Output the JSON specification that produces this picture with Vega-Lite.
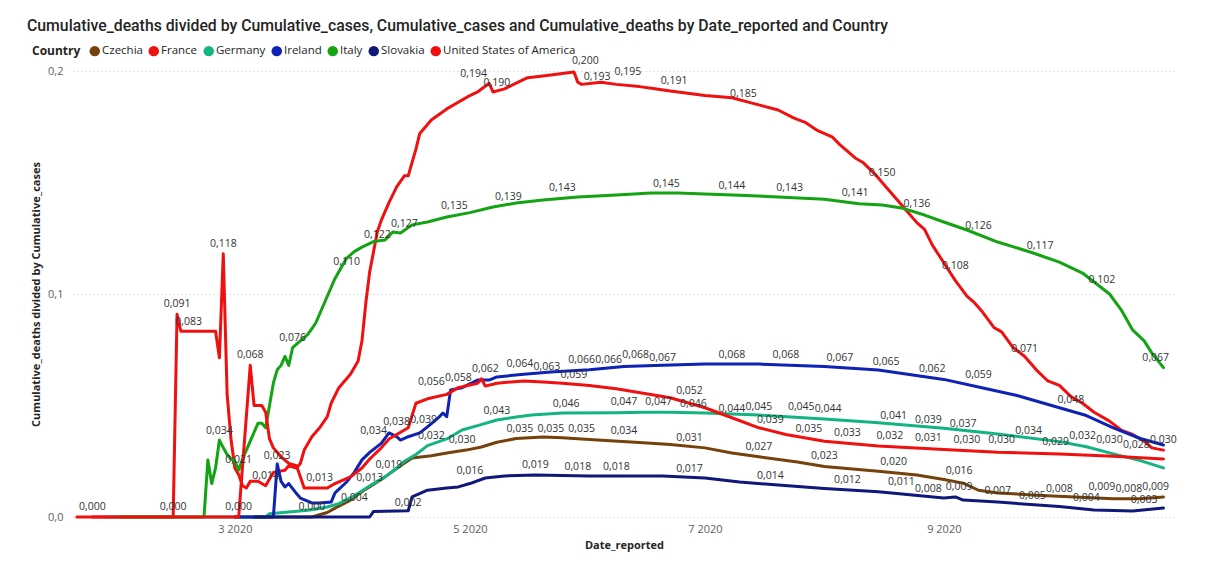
{
"$schema":"https://vega.github.io/schema/vega-lite/v6.json",
"width":1102,"height":446,
"autosize":"none",
"padding":{"left":73,"top":71,"right":31,"bottom":47},
"background":"white",
"config":{"locale":{"number":{"decimal":",","thousands":" ","grouping":[3],"currency":["","€"]}},"view":{"stroke":null},"font":"Open Sans"},
"title":{"text":"Cumulative_deaths divided by Cumulative_cases, Cumulative_cases and Cumulative_deaths by Date_reported and Country","anchor":"start","frame":"group","dx":-46,"fontSize":15.8,"font":"Roboto","fontWeight":500,"color":"#252423","offset":10},
"datasets":{
"series":[
{"date":"2020-03-01","country":"Czechia","value":0},{"date":"2020-03-21","country":"Czechia","value":0},{"date":"2020-03-25","country":"Czechia","value":0.002},{"date":"2020-03-27","country":"Czechia","value":0.004},{"date":"2020-03-31","country":"Czechia","value":0.0076},{"date":"2020-04-04","country":"Czechia","value":0.0125},{"date":"2020-04-09","country":"Czechia","value":0.018},{"date":"2020-04-13","country":"Czechia","value":0.023},{"date":"2020-04-16","country":"Czechia","value":0.0265},{"date":"2020-04-21","country":"Czechia","value":0.0275},{"date":"2020-04-25","country":"Czechia","value":0.0287},{"date":"2020-04-30","country":"Czechia","value":0.030},{"date":"2020-05-04","country":"Czechia","value":0.0314},{"date":"2020-05-08","country":"Czechia","value":0.0335},{"date":"2020-05-13","country":"Czechia","value":0.0352},{"date":"2020-05-20","country":"Czechia","value":0.0359},{"date":"2020-05-25","country":"Czechia","value":0.0355},{"date":"2020-06-01","country":"Czechia","value":0.0348},{"date":"2020-06-15","country":"Czechia","value":0.0333},{"date":"2020-06-22","country":"Czechia","value":0.0325},{"date":"2020-07-01","country":"Czechia","value":0.031},{"date":"2020-07-08","country":"Czechia","value":0.0287},{"date":"2020-07-15","country":"Czechia","value":0.027},{"date":"2020-07-25","country":"Czechia","value":0.0247},{"date":"2020-08-01","country":"Czechia","value":0.0226},{"date":"2020-08-15","country":"Czechia","value":0.0205},{"date":"2020-08-25","country":"Czechia","value":0.0188},{"date":"2020-09-01","country":"Czechia","value":0.0168},{"date":"2020-09-06","country":"Czechia","value":0.0152},{"date":"2020-09-10","country":"Czechia","value":0.012},{"date":"2020-09-15","country":"Czechia","value":0.0108},{"date":"2020-09-25","country":"Czechia","value":0.0098},{"date":"2020-10-05","country":"Czechia","value":0.009},{"date":"2020-10-15","country":"Czechia","value":0.0082},{"date":"2020-10-22","country":"Czechia","value":0.0082},{"date":"2020-10-28","country":"Czechia","value":0.009},
{"date":"2020-01-24","country":"France","value":0},{"date":"2020-02-14","country":"France","value":0},{"date":"2020-02-15","country":"France","value":0.0909},{"date":"2020-02-16","country":"France","value":0.0833},{"date":"2020-02-25","country":"France","value":0.0833},{"date":"2020-02-26","country":"France","value":0.0714},{"date":"2020-02-27","country":"France","value":0.118},{"date":"2020-02-28","country":"France","value":0.055},{"date":"2020-02-29","country":"France","value":0.035},{"date":"2020-03-01","country":"France","value":0.022},{"date":"2020-03-02","country":"France","value":0.019},{"date":"2020-03-03","country":"France","value":0.014},{"date":"2020-03-04","country":"France","value":0.013},{"date":"2020-03-05","country":"France","value":0.016},{"date":"2020-03-07","country":"France","value":0.016},{"date":"2020-03-09","country":"France","value":0.014},{"date":"2020-03-10","country":"France","value":0.017},{"date":"2020-03-11","country":"France","value":0.020},{"date":"2020-03-14","country":"France","value":0.021},{"date":"2020-03-15","country":"France","value":0.023},{"date":"2020-03-17","country":"France","value":0.022},{"date":"2020-03-18","country":"France","value":0.024},{"date":"2020-03-19","country":"France","value":0.030},{"date":"2020-03-21","country":"France","value":0.036},{"date":"2020-03-23","country":"France","value":0.040},{"date":"2020-03-25","country":"France","value":0.045},{"date":"2020-03-26","country":"France","value":0.051},{"date":"2020-03-28","country":"France","value":0.058},{"date":"2020-03-31","country":"France","value":0.064},{"date":"2020-04-02","country":"France","value":0.070},{"date":"2020-04-03","country":"France","value":0.079},{"date":"2020-04-04","country":"France","value":0.096},{"date":"2020-04-05","country":"France","value":0.110},{"date":"2020-04-06","country":"France","value":0.119},{"date":"2020-04-07","country":"France","value":0.128},{"date":"2020-04-08","country":"France","value":0.133},{"date":"2020-04-10","country":"France","value":0.141},{"date":"2020-04-12","country":"France","value":0.148},{"date":"2020-04-14","country":"France","value":0.153},{"date":"2020-04-15","country":"France","value":0.153},{"date":"2020-04-16","country":"France","value":0.159},{"date":"2020-04-17","country":"France","value":0.165},{"date":"2020-04-18","country":"France","value":0.172},{"date":"2020-04-21","country":"France","value":0.178},{"date":"2020-04-25","country":"France","value":0.183},{"date":"2020-05-01","country":"France","value":0.189},{"date":"2020-05-03","country":"France","value":0.1906},{"date":"2020-05-06","country":"France","value":0.1945},{"date":"2020-05-07","country":"France","value":0.1906},{"date":"2020-05-10","country":"France","value":0.192},{"date":"2020-05-13","country":"France","value":0.1946},{"date":"2020-05-16","country":"France","value":0.197},{"date":"2020-05-21","country":"France","value":0.198},{"date":"2020-05-28","country":"France","value":0.1996},{"date":"2020-05-29","country":"France","value":0.195},{"date":"2020-05-30","country":"France","value":0.194},{"date":"2020-06-04","country":"France","value":0.195},{"date":"2020-06-08","country":"France","value":0.194},{"date":"2020-06-14","country":"France","value":0.193},{"date":"2020-06-18","country":"France","value":0.192},{"date":"2020-06-22","country":"France","value":0.191},{"date":"2020-07-01","country":"France","value":0.189},{"date":"2020-07-08","country":"France","value":0.188},{"date":"2020-07-13","country":"France","value":0.1857},{"date":"2020-07-20","country":"France","value":0.1825},{"date":"2020-07-24","country":"France","value":0.179},{"date":"2020-07-27","country":"France","value":0.177},{"date":"2020-07-30","country":"France","value":0.1735},{"date":"2020-08-03","country":"France","value":0.1705},{"date":"2020-08-05","country":"France","value":0.167},{"date":"2020-08-09","country":"France","value":0.161},{"date":"2020-08-11","country":"France","value":0.159},{"date":"2020-08-14","country":"France","value":0.154},{"date":"2020-08-17","country":"France","value":0.148},{"date":"2020-08-20","country":"France","value":0.142},{"date":"2020-08-22","country":"France","value":0.138},{"date":"2020-08-25","country":"France","value":0.132},{"date":"2020-08-27","country":"France","value":0.129},{"date":"2020-08-29","country":"France","value":0.122},{"date":"2020-09-01","country":"France","value":0.114},{"date":"2020-09-04","country":"France","value":0.106},{"date":"2020-09-07","country":"France","value":0.099},{"date":"2020-09-09","country":"France","value":0.096},{"date":"2020-09-11","country":"France","value":0.092},{"date":"2020-09-14","country":"France","value":0.085},{"date":"2020-09-16","country":"France","value":0.083},{"date":"2020-09-19","country":"France","value":0.076},{"date":"2020-09-22","country":"France","value":0.072},{"date":"2020-09-25","country":"France","value":0.066},{"date":"2020-09-28","country":"France","value":0.061},{"date":"2020-10-01","country":"France","value":0.059},{"date":"2020-10-04","country":"France","value":0.054},{"date":"2020-10-07","country":"France","value":0.051},{"date":"2020-10-10","country":"France","value":0.047},{"date":"2020-10-14","country":"France","value":0.043},{"date":"2020-10-17","country":"France","value":0.039},{"date":"2020-10-20","country":"France","value":0.037},{"date":"2020-10-23","country":"France","value":0.034},{"date":"2020-10-25","country":"France","value":0.031},{"date":"2020-10-28","country":"France","value":0.030},
{"date":"2020-01-28","country":"Germany","value":0},{"date":"2020-03-09","country":"Germany","value":0},{"date":"2020-03-10","country":"Germany","value":0.0015},{"date":"2020-03-20","country":"Germany","value":0.003},{"date":"2020-03-25","country":"Germany","value":0.0045},{"date":"2020-03-28","country":"Germany","value":0.006},{"date":"2020-04-01","country":"Germany","value":0.0095},{"date":"2020-04-06","country":"Germany","value":0.015},{"date":"2020-04-09","country":"Germany","value":0.018},{"date":"2020-04-12","country":"Germany","value":0.022},{"date":"2020-04-14","country":"Germany","value":0.025},{"date":"2020-04-17","country":"Germany","value":0.028},{"date":"2020-04-20","country":"Germany","value":0.032},{"date":"2020-04-25","country":"Germany","value":0.035},{"date":"2020-04-29","country":"Germany","value":0.039},{"date":"2020-05-03","country":"Germany","value":0.041},{"date":"2020-05-08","country":"Germany","value":0.0435},{"date":"2020-05-13","country":"Germany","value":0.0448},{"date":"2020-05-17","country":"Germany","value":0.0457},{"date":"2020-05-25","country":"Germany","value":0.0466},{"date":"2020-06-08","country":"Germany","value":0.0468},{"date":"2020-06-15","country":"Germany","value":0.047},{"date":"2020-06-22","country":"Germany","value":0.047},{"date":"2020-07-01","country":"Germany","value":0.0466},{"date":"2020-07-15","country":"Germany","value":0.0457},{"date":"2020-08-01","country":"Germany","value":0.044},{"date":"2020-08-15","country":"Germany","value":0.0423},{"date":"2020-09-01","country":"Germany","value":0.0398},{"date":"2020-09-15","country":"Germany","value":0.0372},{"date":"2020-10-01","country":"Germany","value":0.0338},{"date":"2020-10-08","country":"Germany","value":0.0315},{"date":"2020-10-15","country":"Germany","value":0.0283},{"date":"2020-10-22","country":"Germany","value":0.0253},{"date":"2020-10-28","country":"Germany","value":0.022},
{"date":"2020-03-01","country":"Ireland","value":0},{"date":"2020-03-11","country":"Ireland","value":0},{"date":"2020-03-12","country":"Ireland","value":0.0238},{"date":"2020-03-13","country":"Ireland","value":0.016},{"date":"2020-03-14","country":"Ireland","value":0.0135},{"date":"2020-03-15","country":"Ireland","value":0.015},{"date":"2020-03-17","country":"Ireland","value":0.0105},{"date":"2020-03-18","country":"Ireland","value":0.0085},{"date":"2020-03-21","country":"Ireland","value":0.0063},{"date":"2020-03-23","country":"Ireland","value":0.0063},{"date":"2020-03-26","country":"Ireland","value":0.0067},{"date":"2020-03-27","country":"Ireland","value":0.0108},{"date":"2020-03-30","country":"Ireland","value":0.0157},{"date":"2020-04-01","country":"Ireland","value":0.020},{"date":"2020-04-03","country":"Ireland","value":0.0256},{"date":"2020-04-05","country":"Ireland","value":0.029},{"date":"2020-04-08","country":"Ireland","value":0.033},{"date":"2020-04-10","country":"Ireland","value":0.0377},{"date":"2020-04-12","country":"Ireland","value":0.036},{"date":"2020-04-13","country":"Ireland","value":0.0345},{"date":"2020-04-15","country":"Ireland","value":0.036},{"date":"2020-04-18","country":"Ireland","value":0.0377},{"date":"2020-04-20","country":"Ireland","value":0.0404},{"date":"2020-04-23","country":"Ireland","value":0.0448},{"date":"2020-04-24","country":"Ireland","value":0.0466},{"date":"2020-04-25","country":"Ireland","value":0.045},{"date":"2020-04-26","country":"Ireland","value":0.057},{"date":"2020-04-29","country":"Ireland","value":0.058},{"date":"2020-05-03","country":"Ireland","value":0.0614},{"date":"2020-05-06","country":"Ireland","value":0.0614},{"date":"2020-05-08","country":"Ireland","value":0.0628},{"date":"2020-05-15","country":"Ireland","value":0.064},{"date":"2020-05-22","country":"Ireland","value":0.065},{"date":"2020-06-01","country":"Ireland","value":0.066},{"date":"2020-06-10","country":"Ireland","value":0.0675},{"date":"2020-06-20","country":"Ireland","value":0.068},{"date":"2020-07-01","country":"Ireland","value":0.0686},{"date":"2020-07-15","country":"Ireland","value":0.0686},{"date":"2020-08-01","country":"Ireland","value":0.0675},{"date":"2020-08-15","country":"Ireland","value":0.0659},{"date":"2020-09-01","country":"Ireland","value":0.0617},{"date":"2020-09-10","country":"Ireland","value":0.0583},{"date":"2020-09-20","country":"Ireland","value":0.0545},{"date":"2020-10-01","country":"Ireland","value":0.049},{"date":"2020-10-08","country":"Ireland","value":0.0455},{"date":"2020-10-15","country":"Ireland","value":0.040},{"date":"2020-10-22","country":"Ireland","value":0.0352},{"date":"2020-10-28","country":"Ireland","value":0.0323},
{"date":"2020-01-31","country":"Italy","value":0},{"date":"2020-02-22","country":"Italy","value":0},{"date":"2020-02-23","country":"Italy","value":0.0256},{"date":"2020-02-24","country":"Italy","value":0.015},{"date":"2020-02-25","country":"Italy","value":0.022},{"date":"2020-02-26","country":"Italy","value":0.0345},{"date":"2020-02-27","country":"Italy","value":0.031},{"date":"2020-02-28","country":"Italy","value":0.028},{"date":"2020-02-29","country":"Italy","value":0.026},{"date":"2020-03-01","country":"Italy","value":0.025},{"date":"2020-03-02","country":"Italy","value":0.021},{"date":"2020-03-03","country":"Italy","value":0.026},{"date":"2020-03-04","country":"Italy","value":0.030},{"date":"2020-03-05","country":"Italy","value":0.034},{"date":"2020-03-06","country":"Italy","value":0.038},{"date":"2020-03-07","country":"Italy","value":0.042},{"date":"2020-03-08","country":"Italy","value":0.042},{"date":"2020-03-09","country":"Italy","value":0.040},{"date":"2020-03-10","country":"Italy","value":0.050},{"date":"2020-03-11","country":"Italy","value":0.060},{"date":"2020-03-12","country":"Italy","value":0.066},{"date":"2020-03-13","country":"Italy","value":0.068},{"date":"2020-03-14","country":"Italy","value":0.072},{"date":"2020-03-15","country":"Italy","value":0.068},{"date":"2020-03-16","country":"Italy","value":0.076},{"date":"2020-03-18","country":"Italy","value":0.079},{"date":"2020-03-20","country":"Italy","value":0.082},{"date":"2020-03-22","country":"Italy","value":0.087},{"date":"2020-03-25","country":"Italy","value":0.099},{"date":"2020-03-27","country":"Italy","value":0.107},{"date":"2020-03-30","country":"Italy","value":0.116},{"date":"2020-04-01","country":"Italy","value":0.119},{"date":"2020-04-03","country":"Italy","value":0.121},{"date":"2020-04-06","country":"Italy","value":0.1235},{"date":"2020-04-09","country":"Italy","value":0.1242},{"date":"2020-04-11","country":"Italy","value":0.1278},{"date":"2020-04-13","country":"Italy","value":0.1274},{"date":"2020-04-16","country":"Italy","value":0.131},{"date":"2020-04-20","country":"Italy","value":0.1323},{"date":"2020-04-25","country":"Italy","value":0.1345},{"date":"2020-05-01","country":"Italy","value":0.1365},{"date":"2020-05-07","country":"Italy","value":0.139},{"date":"2020-05-13","country":"Italy","value":0.1408},{"date":"2020-05-20","country":"Italy","value":0.1422},{"date":"2020-05-29","country":"Italy","value":0.1435},{"date":"2020-06-08","country":"Italy","value":0.1444},{"date":"2020-06-17","country":"Italy","value":0.1453},{"date":"2020-06-24","country":"Italy","value":0.1453},{"date":"2020-07-01","country":"Italy","value":0.1448},{"date":"2020-07-10","country":"Italy","value":0.1443},{"date":"2020-07-20","country":"Italy","value":0.1435},{"date":"2020-08-01","country":"Italy","value":0.1425},{"date":"2020-08-10","country":"Italy","value":0.1405},{"date":"2020-08-16","country":"Italy","value":0.1399},{"date":"2020-08-21","country":"Italy","value":0.1386},{"date":"2020-08-27","country":"Italy","value":0.1354},{"date":"2020-09-01","country":"Italy","value":0.1323},{"date":"2020-09-07","country":"Italy","value":0.1287},{"date":"2020-09-15","country":"Italy","value":0.1233},{"date":"2020-09-24","country":"Italy","value":0.1185},{"date":"2020-10-01","country":"Italy","value":0.1143},{"date":"2020-10-07","country":"Italy","value":0.1094},{"date":"2020-10-10","country":"Italy","value":0.1054},{"date":"2020-10-14","country":"Italy","value":0.100},{"date":"2020-10-17","country":"Italy","value":0.093},{"date":"2020-10-20","country":"Italy","value":0.0839},{"date":"2020-10-23","country":"Italy","value":0.079},{"date":"2020-10-25","country":"Italy","value":0.0735},{"date":"2020-10-28","country":"Italy","value":0.067},
{"date":"2020-03-06","country":"Slovakia","value":0},{"date":"2020-04-05","country":"Slovakia","value":0},{"date":"2020-04-06","country":"Slovakia","value":0.0025},{"date":"2020-04-15","country":"Slovakia","value":0.0028},{"date":"2020-04-16","country":"Slovakia","value":0.009},{"date":"2020-04-20","country":"Slovakia","value":0.012},{"date":"2020-04-25","country":"Slovakia","value":0.013},{"date":"2020-04-28","country":"Slovakia","value":0.0135},{"date":"2020-05-01","country":"Slovakia","value":0.015},{"date":"2020-05-05","country":"Slovakia","value":0.0175},{"date":"2020-05-10","country":"Slovakia","value":0.0184},{"date":"2020-05-18","country":"Slovakia","value":0.0188},{"date":"2020-06-01","country":"Slovakia","value":0.0184},{"date":"2020-06-20","country":"Slovakia","value":0.0184},{"date":"2020-07-01","country":"Slovakia","value":0.0175},{"date":"2020-07-10","country":"Slovakia","value":0.0157},{"date":"2020-07-20","country":"Slovakia","value":0.0143},{"date":"2020-08-01","country":"Slovakia","value":0.0128},{"date":"2020-08-15","country":"Slovakia","value":0.0113},{"date":"2020-09-01","country":"Slovakia","value":0.0085},{"date":"2020-09-04","country":"Slovakia","value":0.009},{"date":"2020-09-06","country":"Slovakia","value":0.0076},{"date":"2020-09-15","country":"Slovakia","value":0.0067},{"date":"2020-10-01","country":"Slovakia","value":0.0047},{"date":"2020-10-10","country":"Slovakia","value":0.0031},{"date":"2020-10-20","country":"Slovakia","value":0.0027},{"date":"2020-10-28","country":"Slovakia","value":0.004},
{"date":"2020-01-20","country":"United States of America","value":0},{"date":"2020-03-02","country":"United States of America","value":0},{"date":"2020-03-05","country":"United States of America","value":0.068},{"date":"2020-03-06","country":"United States of America","value":0.050},{"date":"2020-03-08","country":"United States of America","value":0.050},{"date":"2020-03-09","country":"United States of America","value":0.047},{"date":"2020-03-10","country":"United States of America","value":0.035},{"date":"2020-03-11","country":"United States of America","value":0.031},{"date":"2020-03-13","country":"United States of America","value":0.027},{"date":"2020-03-15","country":"United States of America","value":0.024},{"date":"2020-03-17","country":"United States of America","value":0.023},{"date":"2020-03-18","country":"United States of America","value":0.018},{"date":"2020-03-19","country":"United States of America","value":0.013},{"date":"2020-03-22","country":"United States of America","value":0.013},{"date":"2020-03-25","country":"United States of America","value":0.013},{"date":"2020-03-27","country":"United States of America","value":0.015},{"date":"2020-03-31","country":"United States of America","value":0.018},{"date":"2020-04-03","country":"United States of America","value":0.022},{"date":"2020-04-05","country":"United States of America","value":0.026},{"date":"2020-04-08","country":"United States of America","value":0.031},{"date":"2020-04-10","country":"United States of America","value":0.035},{"date":"2020-04-13","country":"United States of America","value":0.038},{"date":"2020-04-15","country":"United States of America","value":0.040},{"date":"2020-04-17","country":"United States of America","value":0.051},{"date":"2020-04-20","country":"United States of America","value":0.053},{"date":"2020-04-25","country":"United States of America","value":0.055},{"date":"2020-04-28","country":"United States of America","value":0.058},{"date":"2020-05-03","country":"United States of America","value":0.060},{"date":"2020-05-04","country":"United States of America","value":0.062},{"date":"2020-05-05","country":"United States of America","value":0.0587},{"date":"2020-05-08","country":"United States of America","value":0.060},{"date":"2020-05-15","country":"United States of America","value":0.061},{"date":"2020-05-20","country":"United States of America","value":0.0605},{"date":"2020-05-25","country":"United States of America","value":0.060},{"date":"2020-06-01","country":"United States of America","value":0.059},{"date":"2020-06-08","country":"United States of America","value":0.0575},{"date":"2020-06-15","country":"United States of America","value":0.0555},{"date":"2020-06-22","country":"United States of America","value":0.0535},{"date":"2020-07-01","country":"United States of America","value":0.049},{"date":"2020-07-08","country":"United States of America","value":0.0445},{"date":"2020-07-15","country":"United States of America","value":0.040},{"date":"2020-07-22","country":"United States of America","value":0.037},{"date":"2020-08-01","country":"United States of America","value":0.034},{"date":"2020-08-15","country":"United States of America","value":0.0318},{"date":"2020-09-01","country":"United States of America","value":0.0303},{"date":"2020-09-15","country":"United States of America","value":0.029},{"date":"2020-10-01","country":"United States of America","value":0.0283},{"date":"2020-10-15","country":"United States of America","value":0.0272},{"date":"2020-10-28","country":"United States of America","value":0.026}
],
"labels":[
{"date":"2020-01-24","country":"France","value":0},{"date":"2020-02-14","country":"France","value":0},{"date":"2020-02-15","country":"France","value":0.091},{"date":"2020-02-18","country":"France","value":0.083},{"date":"2020-02-27","country":"France","value":0.118},{"date":"2020-03-09","country":"France","value":0.014},{"date":"2020-05-08","country":"France","value":0.190},{"date":"2020-05-02","country":"France","value":0.194},{"date":"2020-05-31","country":"France","value":0.200},{"date":"2020-06-03","country":"France","value":0.193},{"date":"2020-06-11","country":"France","value":0.195},{"date":"2020-06-23","country":"France","value":0.191},{"date":"2020-07-11","country":"France","value":0.185},{"date":"2020-08-16","country":"France","value":0.150},{"date":"2020-09-04","country":"France","value":0.108},{"date":"2020-09-22","country":"France","value":0.071},{"date":"2020-10-28","country":"France","value":0.030},
{"date":"2020-03-02","country":"United States of America","value":0},{"date":"2020-03-05","country":"United States of America","value":0.068},{"date":"2020-03-23","country":"United States of America","value":0.013},{"date":"2020-04-06","country":"United States of America","value":0.034},{"date":"2020-04-21","country":"United States of America","value":0.056},{"date":"2020-05-05","country":"United States of America","value":0.062},{"date":"2020-05-21","country":"United States of America","value":0.063},{"date":"2020-05-28","country":"United States of America","value":0.059},{"date":"2020-06-27","country":"United States of America","value":0.052},{"date":"2020-07-08","country":"United States of America","value":0.044},{"date":"2020-07-18","country":"United States of America","value":0.039},{"date":"2020-07-28","country":"United States of America","value":0.035},{"date":"2020-08-07","country":"United States of America","value":0.033},{"date":"2020-08-18","country":"United States of America","value":0.032},{"date":"2020-08-28","country":"United States of America","value":0.031},{"date":"2020-09-07","country":"United States of America","value":0.030},{"date":"2020-09-16","country":"United States of America","value":0.030},{"date":"2020-09-30","country":"United States of America","value":0.029},{"date":"2020-10-21","country":"United States of America","value":0.028},
{"date":"2020-02-26","country":"Italy","value":0.034},{"date":"2020-03-02","country":"Italy","value":0.021},{"date":"2020-03-16","country":"Italy","value":0.076},{"date":"2020-03-30","country":"Italy","value":0.110},{"date":"2020-04-07","country":"Italy","value":0.122},{"date":"2020-04-14","country":"Italy","value":0.127},{"date":"2020-04-27","country":"Italy","value":0.135},{"date":"2020-05-11","country":"Italy","value":0.139},{"date":"2020-05-25","country":"Italy","value":0.143},{"date":"2020-06-21","country":"Italy","value":0.145},{"date":"2020-07-08","country":"Italy","value":0.144},{"date":"2020-07-23","country":"Italy","value":0.143},{"date":"2020-08-09","country":"Italy","value":0.141},{"date":"2020-08-25","country":"Italy","value":0.136},{"date":"2020-09-10","country":"Italy","value":0.126},{"date":"2020-09-26","country":"Italy","value":0.117},{"date":"2020-10-12","country":"Italy","value":0.102},{"date":"2020-10-26","country":"Italy","value":0.067},
{"date":"2020-03-12","country":"Ireland","value":0.023},{"date":"2020-04-12","country":"Ireland","value":0.038},{"date":"2020-04-19","country":"Ireland","value":0.039},{"date":"2020-04-28","country":"Ireland","value":0.058},{"date":"2020-05-14","country":"Ireland","value":0.064},{"date":"2020-05-30","country":"Ireland","value":0.066},{"date":"2020-06-06","country":"Ireland","value":0.066},{"date":"2020-06-13","country":"Ireland","value":0.068},{"date":"2020-06-20","country":"Ireland","value":0.067},{"date":"2020-07-08","country":"Ireland","value":0.068},{"date":"2020-07-22","country":"Ireland","value":0.068},{"date":"2020-08-05","country":"Ireland","value":0.067},{"date":"2020-08-17","country":"Ireland","value":0.065},{"date":"2020-08-29","country":"Ireland","value":0.062},{"date":"2020-09-10","country":"Ireland","value":0.059},{"date":"2020-10-04","country":"Ireland","value":0.048},
{"date":"2020-04-10","country":"Germany","value":0.019},{"date":"2020-04-21","country":"Germany","value":0.032},{"date":"2020-05-08","country":"Germany","value":0.043},{"date":"2020-05-26","country":"Germany","value":0.046},{"date":"2020-06-10","country":"Germany","value":0.047},{"date":"2020-06-19","country":"Germany","value":0.047},{"date":"2020-06-28","country":"Germany","value":0.046},{"date":"2020-07-15","country":"Germany","value":0.045},{"date":"2020-07-26","country":"Germany","value":0.045},{"date":"2020-08-02","country":"Germany","value":0.044},{"date":"2020-08-19","country":"Germany","value":0.041},{"date":"2020-08-28","country":"Germany","value":0.039},{"date":"2020-09-06","country":"Germany","value":0.037},{"date":"2020-09-23","country":"Germany","value":0.034},{"date":"2020-10-07","country":"Germany","value":0.032},{"date":"2020-10-14","country":"Germany","value":0.030},
{"date":"2020-03-21","country":"Czechia","value":0},{"date":"2020-04-01","country":"Czechia","value":0.004},{"date":"2020-04-05","country":"Czechia","value":0.013},{"date":"2020-04-29","country":"Czechia","value":0.030},{"date":"2020-05-14","country":"Czechia","value":0.035},{"date":"2020-05-22","country":"Czechia","value":0.035},{"date":"2020-05-30","country":"Czechia","value":0.035},{"date":"2020-06-10","country":"Czechia","value":0.034},{"date":"2020-06-27","country":"Czechia","value":0.031},{"date":"2020-07-15","country":"Czechia","value":0.027},{"date":"2020-08-01","country":"Czechia","value":0.023},{"date":"2020-08-19","country":"Czechia","value":0.020},{"date":"2020-09-05","country":"Czechia","value":0.016},{"date":"2020-10-01","country":"Czechia","value":0.008},{"date":"2020-10-12","country":"Czechia","value":0.009},{"date":"2020-10-19","country":"Czechia","value":0.008},{"date":"2020-10-26","country":"Czechia","value":0.009},
{"date":"2020-04-15","country":"Slovakia","value":0.002},{"date":"2020-05-01","country":"Slovakia","value":0.016},{"date":"2020-05-18","country":"Slovakia","value":0.019},{"date":"2020-05-29","country":"Slovakia","value":0.018},{"date":"2020-06-08","country":"Slovakia","value":0.018},{"date":"2020-06-27","country":"Slovakia","value":0.017},{"date":"2020-07-18","country":"Slovakia","value":0.014},{"date":"2020-08-07","country":"Slovakia","value":0.012},{"date":"2020-08-21","country":"Slovakia","value":0.011},{"date":"2020-08-28","country":"Slovakia","value":0.008},{"date":"2020-09-05","country":"Slovakia","value":0.009},{"date":"2020-09-15","country":"Slovakia","value":0.007},{"date":"2020-09-24","country":"Slovakia","value":0.005},{"date":"2020-10-08","country":"Slovakia","value":0.004},{"date":"2020-10-23","country":"Slovakia","value":0.003}
]
},
"layer":[
{"data":{"name":"series"},
 "mark":{"type":"line","strokeWidth":3,"strokeJoin":"round","strokeCap":"round"},
 "encoding":{
  "x":{"field":"date","type":"temporal","title":"Date_reported",
   "scale":{"type":"utc","domain":[{"year":2020,"month":1,"date":19,"utc":true},{"year":2020,"month":10,"date":31,"utc":true}],"nice":false},
   "axis":{"format":"%-m %Y","tickCount":{"interval":"month","step":2},"domain":false,"ticks":false,"grid":false,"labelPadding":6,"labelFontSize":11,"labelColor":"#605E5C","titleFontSize":11,"titleFontWeight":"bold","titleColor":"#252423","titlePadding":5}},
  "y":{"field":"value","type":"quantitative","title":"Cumulative_deaths divided by Cumulative_cases",
   "scale":{"domain":[0,0.2],"nice":false},
   "axis":{"values":[0,0.1,0.2],"format":".1f","domain":false,"ticks":false,"labelPadding":10,"labelFontSize":11,"labelColor":"#605E5C","gridColor":"#C8C6C4","gridDash":[1,3],"gridWidth":1.2,"titleFontSize":11,"titleFontWeight":"bold","titleColor":"#252423","titleX":-37,"titleY":223,"titleBaseline":"middle","titleAlign":"center"}},
  "color":{"field":"country","type":"nominal",
   "scale":{"domain":["Czechia","France","Germany","Ireland","Italy","Slovakia","United States of America"],"range":["#74420A","#F01010","#14B482","#0E22B4","#13A313","#10197A","#F01010"]},
   "legend":{"orient":"none","legendX":-41,"legendY":-26,"direction":"horizontal","title":"Country","titleOrient":"left","titleFontSize":12,"titleFontWeight":"bold","titleColor":"#252423","titlePadding":8,"labelFontSize":11.5,"labelColor":"#252423","labelOffset":1.5,"columnPadding":5,"padding":0,"symbolType":"circle","symbolSize":110,"symbolStrokeWidth":0,
    "encode":{"symbols":{"update":{"fill":{"scale":"color","field":"value"},"fillOpacity":{"value":1},"strokeWidth":{"value":0}}}}}}
 }},
{"data":{"name":"labels"},
 "mark":{"type":"text","dy":-10,"fontSize":10.5,"color":"#333333","font":"Open Sans"},
 "encoding":{
  "x":{"field":"date","type":"temporal"},
  "y":{"field":"value","type":"quantitative"},
  "text":{"field":"value","type":"quantitative","format":".3f"}
 }}
]
}
